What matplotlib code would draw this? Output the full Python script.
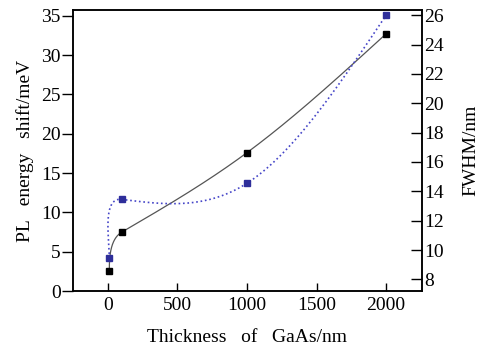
import numpy as np
import matplotlib.pyplot as plt

plt.rcParams['font.family'] = 'Liberation Serif'

# data
thickness = [10, 100, 1000, 2000]
pl_shift = [2.6, 7.5, 17.6, 32.7]      # left axis, black
fwhm = [9.43, 13.45, 14.55, 26.0]      # right axis, blue

xlim = (-250, 2255)
ylim_left = (0, 35.7)
ylim_right = (7.2, 26.34)
W, H = 348, 281   # axes size in pixels, used to keep the curve shape in screen proportions


def natural_spline(x, y):
    # natural cubic spline in x, returns evaluator and slope at the first point
    x = np.asarray(x, float)
    y = np.asarray(y, float)
    n = len(x)
    h = np.diff(x)
    A = np.zeros((n, n))
    b = np.zeros(n)
    A[0, 0] = 1
    A[-1, -1] = 1
    for i in range(1, n - 1):
        A[i, i - 1] = h[i - 1]
        A[i, i] = 2 * (h[i - 1] + h[i])
        A[i, i + 1] = h[i]
        b[i] = 3 * ((y[i + 1] - y[i]) / h[i] - (y[i] - y[i - 1]) / h[i - 1])
    c = np.linalg.solve(A, b)
    bb = np.diff(y) / h - h * (2 * c[:-1] + c[1:]) / 3
    dd = np.diff(c) / (3 * h)

    def ev(xs):
        i = np.clip(np.searchsorted(x, xs) - 1, 0, n - 2)
        d = xs - x[i]
        return y[i] + bb[i] * d + c[i] * d ** 2 + dd[i] * d ** 3

    return ev, bb[0]


def smooth_line(x, y, ylim):
    # long segments: spline in x; first short segment: hermite curve from a vertical start
    x = np.asarray(x, float)
    y = np.asarray(y, float)
    ev, s1 = natural_spline(x[1:], y[1:])
    xs = np.linspace(x[1], x[-1], 600)
    ys = ev(xs)

    sx = W / (xlim[1] - xlim[0])
    sy = H / (ylim[1] - ylim[0])
    p0 = np.array([x[0] * sx, y[0] * sy])
    p1 = np.array([x[1] * sx, y[1] * sy])
    L = np.hypot(*(p1 - p0))
    t0 = np.array([0.0, 1.0]) * L
    t1 = np.array([1.0, s1 * sy / sx])
    t1 = t1 / np.hypot(*t1) * L
    t = np.linspace(0, 1, 100)[:, None]
    h00 = 2 * t ** 3 - 3 * t ** 2 + 1
    h10 = t ** 3 - 2 * t ** 2 + t
    h01 = -2 * t ** 3 + 3 * t ** 2
    h11 = t ** 3 - t ** 2
    seg = h00 * p0 + h10 * t0 + h01 * p1 + h11 * t1
    return (np.concatenate([seg[:, 0] / sx, xs]),
            np.concatenate([seg[:, 1] / sy, ys]))


fig = plt.figure(figsize=(4.78, 3.52), dpi=100)
ax = fig.add_axes([0.153, 0.173, 0.729, 0.798])
ax2 = ax.twinx()

bx, by = smooth_line(thickness, pl_shift, ylim_left)
ax.plot(bx, by, color='#555555', lw=0.9)
ax.plot(thickness, pl_shift, 's', color='black', ms=5, clip_on=False)

qx, qy = smooth_line(thickness, fwhm, ylim_right)
ax2.plot(qx, qy, ':', color='#4545c8', lw=1.2)
ax2.plot(thickness, fwhm, 's', color='#2e2e9a', ms=5)

ax.set_xlim(*xlim)
ax.set_ylim(*ylim_left)
ax2.set_ylim(*ylim_right)

ax.set_xticks([0, 500, 1000, 1500, 2000])
ax.set_yticks(range(0, 36, 5))
ax2.set_yticks(range(8, 27, 2))

ax.tick_params(axis='x', direction='in', length=6, width=1, labelsize=14, pad=4)
ax.tick_params(axis='y', direction='out', length=8, width=1, labelsize=14, pad=1)
ax2.tick_params(axis='y', direction='in', length=8, width=1, labelsize=14, pad=2)

for a in (ax, ax2):
    for s in a.spines.values():
        s.set_linewidth(1.1)

ax.set_xlabel('Thickness   of   GaAs/nm', fontsize=14, labelpad=11)
ax.set_ylabel('PL   energy   shift/meV', fontsize=14, labelpad=5)
ax2.set_ylabel('FWHM/nm', fontsize=14, labelpad=13)

fig.savefig('out.png', dpi=100)
